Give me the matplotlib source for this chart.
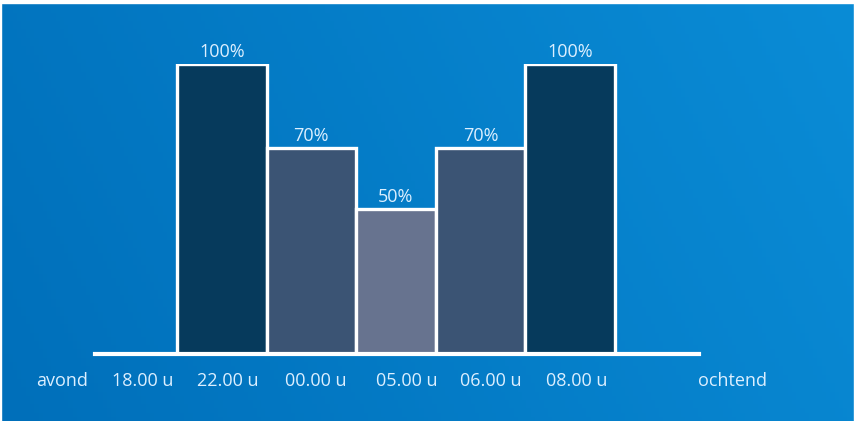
import numpy as np
import matplotlib
matplotlib.use("Agg")
import matplotlib.pyplot as plt
from matplotlib.colors import LinearSegmentedColormap

# ---- data ----
values = [100, 71, 50, 71, 100]
bar_labels = ["100%", "70%", "50%", "70%", "100%"]
tick_labels = ["avond", "18.00 u", "22.00 u", "00.00 u", "05.00 u", "06.00 u", "08.00 u", "ochtend"]

# ---- layout / style ----
bar_widths = [1.0, 1.0, 0.89, 1.0, 1.0]
bar_colors = ["#063a5c", "#3b5474", "#67738f", "#3b5474", "#063a5c"]
tick_pos = [-1.28, -0.38, 0.57, 1.55, 2.57, 3.50, 4.47, 6.21]
text_color = "#dcefff"
fsize = 13

W, H = 856, 421
fig = plt.figure(figsize=(W / 100, H / 100), dpi=100)
fig.patch.set_facecolor("white")

# gradient background
bg = fig.add_axes([0, 0, 1, 1], zorder=0)
bg.set_axis_off()
xx, yy = np.meshgrid(np.linspace(0, 1, 200), np.linspace(0, 1, 100))
t = 0.8 * xx + 0.2 * yy
cmap = LinearSegmentedColormap.from_list("bgc", ["#006fba", "#0a8cd6"])
bg.imshow(t, cmap=cmap, origin="lower", aspect="auto",
          extent=[0, 1, 0, 1], vmin=0, vmax=1)
bg.set_xlim(0, 1)
bg.set_ylim(0, 1)
# thin white frame at top and right
bg.axhspan(1 - 3 / H, 1, color="white")
bg.axvspan(1 - 2 / W, 1, color="white")
bg.axvspan(0, 1 / W, color="white")

# main axes: baseline from x=95 to 699 px, at y=354 px; 100 -> 290 px
x0, x1 = 95, 699
yb = 354
ax = fig.add_axes([x0 / W, (H - yb) / H, (x1 - x0) / W, 290 / H], zorder=1)
ax.patch.set_alpha(0)
unit = 89.5
ax.set_xlim(-(177 - x0) / unit, (x1 - 177) / unit)
ax.set_ylim(0, 100)

lefts = np.concatenate([[0], np.cumsum(bar_widths)[:-1]])
bars = ax.bar(lefts, values, width=bar_widths, align="edge",
              color=bar_colors, edgecolor="white", linewidth=2.4, zorder=2)

for rect, lab in zip(bars, bar_labels):
    ax.annotate(lab, (rect.get_x() + rect.get_width() / 2, rect.get_height()),
                xytext=(0, 2.0), textcoords="offset points",
                ha="center", va="bottom", color=text_color,
                fontsize=fsize, family="Open Sans")

for s in ["top", "right", "left"]:
    ax.spines[s].set_visible(False)
ax.spines["bottom"].set_color("white")
ax.spines["bottom"].set_linewidth(3)
ax.spines["bottom"].set_zorder(3)
ax.set_yticks([])
ax.set_xticks([])

for xp, lab in zip(tick_pos, tick_labels):
    ax.text(xp, -(381 - yb) / 2.9, lab, ha="center", va="center",
            color=text_color, fontsize=fsize, family="Open Sans", clip_on=False)

fig.savefig("out.png", dpi=100, facecolor=fig.get_facecolor())
